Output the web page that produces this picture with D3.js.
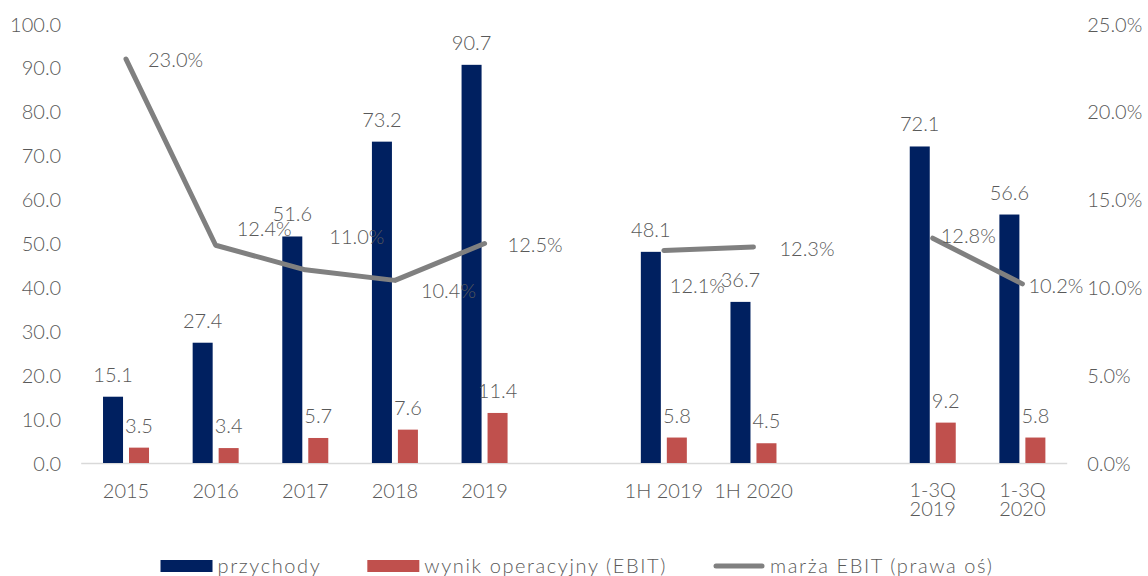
<!DOCTYPE html>
<html>
<head>
<meta charset="utf-8">
<script src="https://cdn.jsdelivr.net/npm/d3@7"></script>
<style>
  html, body { margin: 0; padding: 0; background: #fff; }
  svg text { font-family: Lato, "Open Sans", sans-serif; font-weight: 300; fill: #595959; }
</style>
</head>
<body>
<svg id="chart" width="1148" height="576"></svg>
<script>
// Periods on the category axis; empty entries separate the three groups.
const categories = ['2015', '2016', '2017', '2018', '2019', '', '1H 2019', '1H 2020', '', '1-3Q 2019', '1-3Q 2020'];
// Revenue (przychody), PLN m
const revenue = [15.1, 27.4, 51.6, 73.2, 90.7, null, 48.1, 36.7, null, 72.1, 56.6];
// Operating result (EBIT), PLN m
const ebit = [3.5, 3.4, 5.7, 7.6, 11.4, null, 5.8, 4.5, null, 9.2, 5.8];
// EBIT margin, % (right axis)
const ebitMargin = [23.0, 12.4, 11.0, 10.4, 12.5, null, 12.1, 12.3, null, 12.8, 10.2];
// Axis ticks
const leftTicks = [0, 10, 20, 30, 40, 50, 60, 70, 80, 90, 100];
const rightTicks = [0, 5, 10, 15, 20, 25];
// Legend entries
const seriesNames = ['przychody', 'wynik operacyjny (EBIT)', 'marża EBIT (prawa oś)'];

// Hand-placed offsets for the margin labels so they clear the bars and each other
const marginLabelOffset = [[22, 1], [21, -16], [24, -33], [26, 11], [23, 1], null,
                           [6, 35], [26, 2], null, [8, -2], [6, 2]];

const colors = { revenue: '#002060', ebit: '#C0504D', margin: '#808080' };
const fontSize = 20;

const svg = d3.select('#chart');
const plot = { left: 81.2, right: 1067.2, top: 24, bottom: 463 };

const x = d3.scaleBand()
  .domain(d3.range(categories.length))
  .range([plot.left, plot.right])
  .padding(0);

const xInner = d3.scaleBand()
  .domain(['revenue', 'ebit'])
  .range([-23, 23])
  .paddingInner(0.23);

const yLeft = d3.scaleLinear().domain([0, 100]).range([plot.bottom, plot.top]);
const yRight = d3.scaleLinear().domain([0, 25]).range([plot.bottom, plot.top]);

const center = i => x(i) + x.bandwidth() / 2;

// Left axis
const leftAxis = svg.append('g')
  .attr('transform', `translate(${plot.left - 20},0)`)
  .call(d3.axisLeft(yLeft).tickValues(leftTicks).tickFormat(d3.format('.1f')).tickSize(0).tickPadding(0));
leftAxis.select('.domain').remove();
leftAxis.selectAll('text')
  .attr('font-size', fontSize).attr('dy', '0.35em').attr('fill', '#595959');

// Right axis
const rightAxis = svg.append('g')
  .attr('transform', `translate(${plot.right + 20},0)`)
  .call(d3.axisRight(yRight).tickValues(rightTicks).tickFormat(d => d3.format('.1f')(d) + '%').tickSize(0).tickPadding(0));
rightAxis.select('.domain').remove();
rightAxis.selectAll('text')
  .attr('font-size', fontSize).attr('dy', '0.35em').attr('fill', '#595959');

// Category baseline
svg.append('line')
  .attr('x1', plot.left).attr('x2', plot.right)
  .attr('y1', yLeft(0) + 0.5).attr('y2', yLeft(0) + 0.5)
  .attr('stroke', '#D9D9D9').attr('stroke-width', 1.5);

// Category labels, wrapped onto two lines when wider than a slot
const xLabels = svg.append('g');
categories.forEach((c, i) => {
  if (!c) return;
  const t = xLabels.append('text')
    .attr('x', center(i)).attr('y', 498)
    .attr('text-anchor', 'middle').attr('font-size', fontSize)
    .text(c);
  if (t.node().getComputedTextLength() > x.step() * 0.95) {
    const words = c.split(' ');
    t.text(null);
    words.forEach((w, k) => {
      t.append('tspan').attr('x', center(i)).attr('y', 497 + k * 19).text(w);
    });
  }
});

// Bars
const barData = [];
categories.forEach((c, i) => {
  if (revenue[i] != null) barData.push({ i, key: 'revenue', v: revenue[i] });
  if (ebit[i] != null) barData.push({ i, key: 'ebit', v: ebit[i] });
});

svg.append('g').selectAll('rect')
  .data(barData)
  .join('rect')
  .attr('x', d => center(d.i) + xInner(d.key))
  .attr('width', xInner.bandwidth())
  .attr('y', d => yLeft(d.v))
  .attr('height', d => yLeft(0) - yLeft(d.v))
  .attr('fill', d => colors[d.key]);

// Margin line (breaks across the empty slots)
const line = d3.line()
  .defined(d => d != null)
  .x((d, i) => center(i))
  .y(d => yRight(d));

svg.append('path')
  .datum(ebitMargin)
  .attr('d', line)
  .attr('fill', 'none')
  .attr('stroke', colors.margin)
  .attr('stroke-width', 5)
  .attr('stroke-linecap', 'round')
  .attr('stroke-linejoin', 'round');

// Bar value labels
svg.append('g').selectAll('text')
  .data(barData)
  .join('text')
  .attr('x', d => center(d.i) + xInner(d.key) + xInner.bandwidth() / 2)
  .attr('y', d => yLeft(d.v) - 15)
  .attr('text-anchor', 'middle')
  .attr('font-size', fontSize)
  .text(d => d3.format('.1f')(d.v));

// Margin value labels
svg.append('g').selectAll('text')
  .data(ebitMargin.map((v, i) => ({ v, i })).filter(d => d.v != null))
  .join('text')
  .attr('x', d => center(d.i) + marginLabelOffset[d.i][0])
  .attr('y', d => yRight(d.v) + marginLabelOffset[d.i][1])
  .attr('dy', '0.35em')
  .attr('font-size', fontSize)
  .text(d => d3.format('.1f')(d.v) + '%');

// Legend
const legend = svg.append('g');
const swatchW = 52, textGap = 5, itemGap = 46, legendY = 566;
let cursor = 0;
seriesNames.forEach((name, k) => {
  const g = legend.append('g').attr('transform', `translate(${cursor},0)`);
  if (k < 2) {
    g.append('rect')
      .attr('x', 0).attr('y', legendY - 6)
      .attr('width', swatchW).attr('height', 12)
      .attr('fill', k === 0 ? colors.revenue : colors.ebit);
  } else {
    g.append('line')
      .attr('x1', 3).attr('x2', swatchW - 3)
      .attr('y1', legendY).attr('y2', legendY)
      .attr('stroke', colors.margin).attr('stroke-width', 5)
      .attr('stroke-linecap', 'round');
  }
  const t = g.append('text')
    .attr('x', swatchW + textGap).attr('y', legendY)
    .attr('dy', '0.35em')
    .attr('font-size', fontSize)
    .attr('letter-spacing', 1.6)
    .text(name);
  cursor += swatchW + textGap + t.node().getComputedTextLength() + itemGap;
});
const legendWidth = cursor - itemGap;
legend.attr('transform', `translate(${577 - legendWidth / 2},0)`);
</script>
</body>
</html>
